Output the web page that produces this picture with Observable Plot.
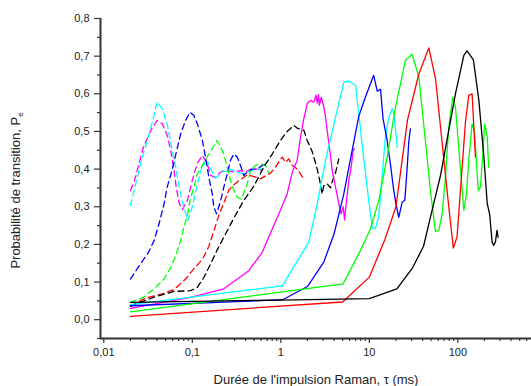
<!DOCTYPE html>
<html><head><meta charset="utf-8">
<script src="https://cdn.jsdelivr.net/npm/d3@7"></script>
<script src="https://cdn.jsdelivr.net/npm/@observablehq/plot@0.6"></script>
<style>body{margin:0;background:#fff;}</style>
</head><body><div id="chart"></div>
<script>
// ---- data: [tau (ms), P_e] ----
const dashMagenta = [[0.02,0.343],[0.022,0.365],[0.025,0.414],[0.028,0.458],[0.034,0.503],[0.04,0.529],[0.046,0.52],[0.052,0.49],[0.057,0.45],[0.062,0.4],[0.066,0.35],[0.071,0.31],[0.077,0.292],[0.088,0.316],[0.1,0.37],[0.114,0.416],[0.13,0.436],[0.148,0.414],[0.161,0.383],[0.183,0.378],[0.209,0.392],[0.248,0.396],[0.295,0.392],[0.35,0.396],[0.4,0.392],[0.455,0.4],[0.54,0.4],[0.64,0.396]];
const dashCyan = [[0.02,0.303],[0.023,0.361],[0.026,0.414],[0.031,0.476],[0.035,0.52],[0.04,0.578],[0.046,0.56],[0.052,0.52],[0.059,0.454],[0.065,0.405],[0.071,0.352],[0.08,0.299],[0.089,0.263],[0.1,0.3],[0.114,0.36],[0.13,0.41],[0.15,0.418],[0.168,0.392],[0.183,0.376],[0.2,0.383],[0.218,0.396],[0.248,0.392],[0.27,0.4],[0.32,0.392],[0.38,0.387],[0.455,0.396],[0.54,0.4],[0.6,0.4]];
const dashBlue = [[0.02,0.108],[0.026,0.148],[0.032,0.179],[0.037,0.21],[0.042,0.254],[0.048,0.308],[0.052,0.352],[0.059,0.396],[0.068,0.458],[0.074,0.494],[0.084,0.529],[0.094,0.551],[0.104,0.543],[0.114,0.52],[0.13,0.476],[0.141,0.432],[0.154,0.378],[0.168,0.334],[0.175,0.3],[0.188,0.281],[0.209,0.316],[0.227,0.352],[0.248,0.387],[0.27,0.423],[0.295,0.44],[0.322,0.432],[0.35,0.41],[0.382,0.383],[0.417,0.392],[0.475,0.4],[0.54,0.4],[0.62,0.41],[0.67,0.414]];
const dashGreen = [[0.02,0.046],[0.028,0.059],[0.037,0.082],[0.048,0.108],[0.057,0.139],[0.065,0.17],[0.074,0.21],[0.08,0.245],[0.089,0.281],[0.094,0.316],[0.104,0.352],[0.114,0.387],[0.13,0.41],[0.154,0.44],[0.172,0.458],[0.19,0.476],[0.209,0.458],[0.227,0.44],[0.248,0.405],[0.27,0.37],[0.295,0.343],[0.322,0.325],[0.36,0.32],[0.417,0.361],[0.455,0.396],[0.52,0.41],[0.59,0.414],[0.67,0.41],[0.73,0.39]];
const dashRed = [[0.02,0.036],[0.03,0.058],[0.045,0.068],[0.062,0.08],[0.084,0.108],[0.104,0.135],[0.13,0.16],[0.154,0.195],[0.175,0.235],[0.2,0.278],[0.227,0.31],[0.26,0.345],[0.3,0.36],[0.35,0.372],[0.42,0.385],[0.5,0.38],[0.59,0.374],[0.77,0.39],[0.87,0.405],[0.99,0.425],[1.04,0.432],[1.13,0.418],[1.23,0.427],[1.35,0.41],[1.53,0.4],[1.67,0.387],[1.8,0.375]];
const dashBlack = [[0.02,0.036],[0.037,0.06],[0.062,0.075],[0.096,0.077],[0.114,0.086],[0.135,0.112],[0.161,0.148],[0.19,0.184],[0.227,0.219],[0.295,0.27],[0.38,0.316],[0.5,0.356],[0.64,0.405],[0.8,0.44],[0.99,0.476],[1.18,0.5],[1.4,0.516],[1.55,0.508],[1.82,0.503],[1.99,0.476],[2.26,0.447],[2.55,0.405],[2.75,0.37],[2.93,0.334],[3.06,0.356],[3.34,0.361],[3.64,0.35],[3.85,0.37],[4.15,0.39],[4.52,0.427]];
const solidMagenta = [[0.02,0.03],[0.096,0.059],[0.227,0.082],[0.435,0.13],[0.617,0.179],[0.78,0.235],[0.95,0.281],[1.18,0.334],[1.35,0.392],[1.53,0.423],[1.67,0.485],[1.82,0.534],[1.99,0.574],[2.16,0.582],[2.36,0.578],[2.5,0.596],[2.58,0.575],[2.66,0.598],[2.73,0.569],[2.86,0.591],[3.06,0.565],[3.2,0.538],[3.34,0.503],[3.58,0.45],[3.81,0.396],[4.15,0.352],[4.52,0.308],[4.8,0.281],[5.07,0.3],[5.25,0.265],[5.53,0.316],[5.87,0.37],[6.24,0.405],[6.57,0.45],[6.8,0.454]];
const solidCyan = [[0.02,0.04],[1.04,0.09],[2.07,0.206],[2.58,0.308],[3.2,0.423],[4.15,0.538],[5.15,0.631],[5.9,0.634],[7,0.622],[7.6,0.547],[8.7,0.423],[9.85,0.316],[10.8,0.245],[11.7,0.241],[12.8,0.275],[14,0.387],[15.2,0.485],[16.6,0.538],[18.1,0.56],[18.9,0.551],[19.8,0.503],[20.7,0.458]];
const solidBlue = [[0.02,0.037],[1.05,0.053],[2,0.088],[3.06,0.153],[4,0.228],[5.15,0.334],[6.4,0.45],[7.6,0.54],[9,0.59],[11.2,0.649],[12.3,0.607],[13.4,0.612],[14.3,0.534],[15.9,0.476],[17.3,0.414],[18.9,0.343],[20,0.308],[21.5,0.272],[23.5,0.312],[25.2,0.317],[26.8,0.405],[28,0.476],[29.1,0.507]];
const solidGreen = [[0.02,0.021],[5.05,0.095],[7.95,0.184],[10.3,0.241],[12.8,0.317],[15.9,0.432],[19.8,0.565],[25.6,0.689],[30.5,0.705],[36.3,0.644],[43,0.476],[49,0.343],[56,0.234],[61,0.237],[66.5,0.281],[72,0.37],[79,0.511],[87.5,0.591],[94,0.565],[102.5,0.458],[117,0.29],[125,0.334],[133,0.423],[145,0.52],[154,0.503],[170,0.343],[180,0.352],[191,0.432],[201,0.52],[215,0.485],[223,0.405]];
const solidRed = [[0.02,0.009],[5,0.047],[10,0.113],[15,0.213],[20,0.3],[27,0.53],[36,0.65],[47,0.722],[56,0.64],[79,0.3],[89,0.19],[98,0.22],[122,0.525],[133,0.596],[145,0.6],[158,0.432]];
const solidBlack = [[0.02,0.046],[1,0.052],[10,0.056],[20.5,0.082],[30.5,0.136],[41,0.195],[49,0.272],[64,0.385],[94,0.6],[117,0.702],[127,0.714],[150,0.69],[173,0.582],[197,0.432],[215,0.308],[229,0.28],[244,0.206],[254,0.197],[266,0.206],[277,0.237],[285,0.219]];

const seriesList = [
  {pts: dashMagenta, color: "#ff00ff", dashed: true},
  {pts: dashCyan, color: "#00ffff", dashed: true},
  {pts: dashBlue, color: "#0000ff", dashed: true},
  {pts: dashGreen, color: "#00ff00", dashed: true},
  {pts: dashRed, color: "#ff0000", dashed: true},
  {pts: dashBlack, color: "#000000", dashed: true},
  {pts: solidMagenta, color: "#ff00ff", dashed: false},
  {pts: solidCyan, color: "#00ffff", dashed: false},
  {pts: solidBlue, color: "#0000ff", dashed: false},
  {pts: solidGreen, color: "#00ff00", dashed: false},
  {pts: solidRed, color: "#ff0000", dashed: false},
  {pts: solidBlack, color: "#000000", dashed: false}
];

const xMajor = [0.01, 0.1, 1, 10, 100];
const xLabels = ["0,01", "0,1", "1", "10", "100"];
const yMajor = [0, 0.1, 0.2, 0.3, 0.4, 0.5, 0.6, 0.7, 0.8];
const yLabels = ["0,0","0,1","0,2","0,3","0,4","0,5","0,6","0,7","0,8"];
const xMin = 0.00918, xMax = 680, yMin = -0.05, yMax = 0.8;
const xMinor = xMajor.flatMap(d => [2,3,4,5,6,7,8,9].map(k => k * d)).filter(v => v <= xMax);
const yMinor = [-0.05, 0.05, 0.15, 0.25, 0.35, 0.45, 0.55, 0.65, 0.75];

const axisColor = "#333";
const chart = Plot.plot({
  width: 531, height: 386,
  marginLeft: 100, marginRight: 0, marginTop: 18, marginBottom: 48,
  style: {fontFamily: "Arial, 'Liberation Sans', sans-serif", fontSize: "11px", color: "#222", background: "#fff"},
  x: {type: "log", domain: [xMin, xMax]},
  y: {domain: [yMin, yMax]},
  marks: [
    ...seriesList.map(s => Plot.line(s.pts, {x: d => d[0], y: d => d[1], stroke: s.color, strokeWidth: 1.3, strokeDasharray: s.dashed ? "6,4" : null})),
    Plot.axisX({ticks: xMinor, tickSize: 3, tickFormat: () => "", stroke: axisColor, strokeWidth: 1.2, label: null}),
    Plot.axisX({ticks: xMajor, tickSize: 5, tickPadding: 5, tickFormat: d => xLabels[xMajor.indexOf(d)], stroke: axisColor, strokeWidth: 1.2,
      label: "Durée de l'impulsion Raman, τ (ms)", labelAnchor: "center", labelArrow: "none"}),
    Plot.axisY({ticks: yMinor, tickSize: 3, tickFormat: () => "", stroke: axisColor, strokeWidth: 1.2, label: null}),
    Plot.axisY({ticks: yMajor, tickSize: 6, tickPadding: 5, tickFormat: d => yLabels[Math.round(d * 10)], stroke: axisColor, strokeWidth: 1.2,
      label: "Probabilité de transition, P", labelAnchor: "center", labelOffset: 90, labelArrow: "none"}),
    Plot.ruleX([xMin], {stroke: axisColor, strokeWidth: 2}),
    Plot.ruleY([yMin], {stroke: axisColor, strokeWidth: 2})
  ]
});
document.getElementById("chart").appendChild(chart);
const svg = d3.select(chart);
svg.selectAll('g[aria-label="x-axis label"] text, g[aria-label="y-axis label"] text').attr("font-size", 13);
const ylg = svg.select('g[aria-label="y-axis label"]');
const yl = ylg.select("text");
if (!yl.empty()) {
  yl.text("Probabilité de transition, P");
  yl.append("tspan").attr("font-size", 8).attr("dy", "0.45em").text("e");
  const t = ylg.attr("transform") || "";
  ylg.attr("transform", "translate(0,12) " + t);
}
</script>
</body></html>
